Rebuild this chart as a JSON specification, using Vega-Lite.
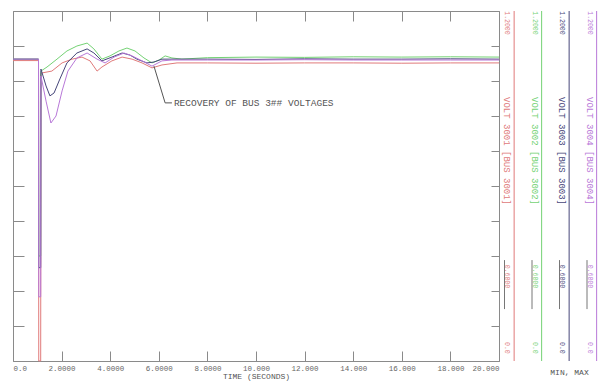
{
  "$schema": "https://vega.github.io/schema/vega-lite/v6.json",
  "background": "white",
  "padding": {"left": 11, "top": 10, "right": 0, "bottom": 0},
  "spacing": 0,
  "bounds": "flush",
  "config": {
    "view": {"stroke": null},
    "axis": {
      "grid": false,
      "domainColor": "#8a8a8a",
      "tickColor": "#8a8a8a",
      "labelFont": "Liberation Mono",
      "titleFont": "Liberation Mono",
      "labelColor": "#666666",
      "titleColor": "#555555",
      "labelFontSize": 7.5,
      "titleFontSize": 8,
      "titleFontWeight": "normal"
    }
  },
  "datasets": {
    "volts": [
      {"ch": "VOLT 3001 [BUS 3001]", "t": 0, "v": 1.03},
      {"ch": "VOLT 3001 [BUS 3001]", "t": 1.05, "v": 1.03},
      {"ch": "VOLT 3001 [BUS 3001]", "t": 1.06, "v": 0.0},
      {"ch": "VOLT 3001 [BUS 3001]", "t": 1.14, "v": 0.0},
      {"ch": "VOLT 3001 [BUS 3001]", "t": 1.15, "v": 0.987},
      {"ch": "VOLT 3001 [BUS 3001]", "t": 1.6, "v": 0.994},
      {"ch": "VOLT 3001 [BUS 3001]", "t": 2.02, "v": 1.022},
      {"ch": "VOLT 3001 [BUS 3001]", "t": 2.43, "v": 1.035},
      {"ch": "VOLT 3001 [BUS 3001]", "t": 2.84, "v": 1.042},
      {"ch": "VOLT 3001 [BUS 3001]", "t": 3.17, "v": 1.029},
      {"ch": "VOLT 3001 [BUS 3001]", "t": 3.46, "v": 0.994},
      {"ch": "VOLT 3001 [BUS 3001]", "t": 3.66, "v": 1.008},
      {"ch": "VOLT 3001 [BUS 3001]", "t": 4.07, "v": 1.029},
      {"ch": "VOLT 3001 [BUS 3001]", "t": 4.49, "v": 1.042},
      {"ch": "VOLT 3001 [BUS 3001]", "t": 4.9, "v": 1.035},
      {"ch": "VOLT 3001 [BUS 3001]", "t": 5.31, "v": 1.022},
      {"ch": "VOLT 3001 [BUS 3001]", "t": 5.72, "v": 1.005},
      {"ch": "VOLT 3001 [BUS 3001]", "t": 6.13, "v": 1.015},
      {"ch": "VOLT 3001 [BUS 3001]", "t": 6.75, "v": 1.022},
      {"ch": "VOLT 3001 [BUS 3001]", "t": 8, "v": 1.022},
      {"ch": "VOLT 3001 [BUS 3001]", "t": 10, "v": 1.021},
      {"ch": "VOLT 3001 [BUS 3001]", "t": 12, "v": 1.022},
      {"ch": "VOLT 3001 [BUS 3001]", "t": 14, "v": 1.022},
      {"ch": "VOLT 3001 [BUS 3001]", "t": 16, "v": 1.021},
      {"ch": "VOLT 3001 [BUS 3001]", "t": 18, "v": 1.022},
      {"ch": "VOLT 3001 [BUS 3001]", "t": 20, "v": 1.022},

      {"ch": "VOLT 3002 [BUS 3002]", "t": 0, "v": 1.035},
      {"ch": "VOLT 3002 [BUS 3002]", "t": 1.05, "v": 1.035},
      {"ch": "VOLT 3002 [BUS 3002]", "t": 1.06, "v": 0.36},
      {"ch": "VOLT 3002 [BUS 3002]", "t": 1.14, "v": 0.36},
      {"ch": "VOLT 3002 [BUS 3002]", "t": 1.15, "v": 0.994},
      {"ch": "VOLT 3002 [BUS 3002]", "t": 1.4, "v": 1.008},
      {"ch": "VOLT 3002 [BUS 3002]", "t": 1.81, "v": 1.035},
      {"ch": "VOLT 3002 [BUS 3002]", "t": 2.22, "v": 1.063},
      {"ch": "VOLT 3002 [BUS 3002]", "t": 2.63, "v": 1.08},
      {"ch": "VOLT 3002 [BUS 3002]", "t": 3.05, "v": 1.09},
      {"ch": "VOLT 3002 [BUS 3002]", "t": 3.33, "v": 1.07},
      {"ch": "VOLT 3002 [BUS 3002]", "t": 3.66, "v": 1.035},
      {"ch": "VOLT 3002 [BUS 3002]", "t": 3.99, "v": 1.046},
      {"ch": "VOLT 3002 [BUS 3002]", "t": 4.36, "v": 1.063},
      {"ch": "VOLT 3002 [BUS 3002]", "t": 4.69, "v": 1.073},
      {"ch": "VOLT 3002 [BUS 3002]", "t": 5.02, "v": 1.063},
      {"ch": "VOLT 3002 [BUS 3002]", "t": 5.39, "v": 1.039},
      {"ch": "VOLT 3002 [BUS 3002]", "t": 5.72, "v": 1.022},
      {"ch": "VOLT 3002 [BUS 3002]", "t": 6.01, "v": 1.032},
      {"ch": "VOLT 3002 [BUS 3002]", "t": 6.26, "v": 1.046},
      {"ch": "VOLT 3002 [BUS 3002]", "t": 6.54, "v": 1.039},
      {"ch": "VOLT 3002 [BUS 3002]", "t": 6.95, "v": 1.035},
      {"ch": "VOLT 3002 [BUS 3002]", "t": 8, "v": 1.04},
      {"ch": "VOLT 3002 [BUS 3002]", "t": 10, "v": 1.042},
      {"ch": "VOLT 3002 [BUS 3002]", "t": 12, "v": 1.041},
      {"ch": "VOLT 3002 [BUS 3002]", "t": 14, "v": 1.043},
      {"ch": "VOLT 3002 [BUS 3002]", "t": 16, "v": 1.042},
      {"ch": "VOLT 3002 [BUS 3002]", "t": 18, "v": 1.043},
      {"ch": "VOLT 3002 [BUS 3002]", "t": 20, "v": 1.042},

      {"ch": "VOLT 3003 [BUS 3003]", "t": 0, "v": 1.035},
      {"ch": "VOLT 3003 [BUS 3003]", "t": 1.05, "v": 1.035},
      {"ch": "VOLT 3003 [BUS 3003]", "t": 1.06, "v": 0.32},
      {"ch": "VOLT 3003 [BUS 3003]", "t": 1.14, "v": 0.32},
      {"ch": "VOLT 3003 [BUS 3003]", "t": 1.15, "v": 1.001},
      {"ch": "VOLT 3003 [BUS 3003]", "t": 1.36, "v": 0.943},
      {"ch": "VOLT 3003 [BUS 3003]", "t": 1.52, "v": 0.909},
      {"ch": "VOLT 3003 [BUS 3003]", "t": 1.69, "v": 0.919},
      {"ch": "VOLT 3003 [BUS 3003]", "t": 1.93, "v": 0.967},
      {"ch": "VOLT 3003 [BUS 3003]", "t": 2.22, "v": 1.022},
      {"ch": "VOLT 3003 [BUS 3003]", "t": 2.63, "v": 1.056},
      {"ch": "VOLT 3003 [BUS 3003]", "t": 3.05, "v": 1.07},
      {"ch": "VOLT 3003 [BUS 3003]", "t": 3.33, "v": 1.056},
      {"ch": "VOLT 3003 [BUS 3003]", "t": 3.66, "v": 1.029},
      {"ch": "VOLT 3003 [BUS 3003]", "t": 4.07, "v": 1.042},
      {"ch": "VOLT 3003 [BUS 3003]", "t": 4.49, "v": 1.056},
      {"ch": "VOLT 3003 [BUS 3003]", "t": 4.81, "v": 1.049},
      {"ch": "VOLT 3003 [BUS 3003]", "t": 5.1, "v": 1.035},
      {"ch": "VOLT 3003 [BUS 3003]", "t": 5.51, "v": 1.022},
      {"ch": "VOLT 3003 [BUS 3003]", "t": 5.8, "v": 1.025},
      {"ch": "VOLT 3003 [BUS 3003]", "t": 6.13, "v": 1.035},
      {"ch": "VOLT 3003 [BUS 3003]", "t": 6.54, "v": 1.035},
      {"ch": "VOLT 3003 [BUS 3003]", "t": 8, "v": 1.035},
      {"ch": "VOLT 3003 [BUS 3003]", "t": 10, "v": 1.034},
      {"ch": "VOLT 3003 [BUS 3003]", "t": 12, "v": 1.036},
      {"ch": "VOLT 3003 [BUS 3003]", "t": 14, "v": 1.035},
      {"ch": "VOLT 3003 [BUS 3003]", "t": 16, "v": 1.035},
      {"ch": "VOLT 3003 [BUS 3003]", "t": 18, "v": 1.036},
      {"ch": "VOLT 3003 [BUS 3003]", "t": 20, "v": 1.035},

      {"ch": "VOLT 3004 [BUS 3004]", "t": 0, "v": 1.035},
      {"ch": "VOLT 3004 [BUS 3004]", "t": 1.05, "v": 1.035},
      {"ch": "VOLT 3004 [BUS 3004]", "t": 1.06, "v": 0.22},
      {"ch": "VOLT 3004 [BUS 3004]", "t": 1.14, "v": 0.22},
      {"ch": "VOLT 3004 [BUS 3004]", "t": 1.15, "v": 0.977},
      {"ch": "VOLT 3004 [BUS 3004]", "t": 1.36, "v": 0.891},
      {"ch": "VOLT 3004 [BUS 3004]", "t": 1.56, "v": 0.816},
      {"ch": "VOLT 3004 [BUS 3004]", "t": 1.77, "v": 0.84},
      {"ch": "VOLT 3004 [BUS 3004]", "t": 2.02, "v": 0.926},
      {"ch": "VOLT 3004 [BUS 3004]", "t": 2.26, "v": 0.994},
      {"ch": "VOLT 3004 [BUS 3004]", "t": 2.63, "v": 1.039},
      {"ch": "VOLT 3004 [BUS 3004]", "t": 3.05, "v": 1.056},
      {"ch": "VOLT 3004 [BUS 3004]", "t": 3.46, "v": 1.035},
      {"ch": "VOLT 3004 [BUS 3004]", "t": 3.79, "v": 1.022},
      {"ch": "VOLT 3004 [BUS 3004]", "t": 4.16, "v": 1.042},
      {"ch": "VOLT 3004 [BUS 3004]", "t": 4.57, "v": 1.056},
      {"ch": "VOLT 3004 [BUS 3004]", "t": 4.9, "v": 1.046},
      {"ch": "VOLT 3004 [BUS 3004]", "t": 5.31, "v": 1.029},
      {"ch": "VOLT 3004 [BUS 3004]", "t": 5.72, "v": 1.011},
      {"ch": "VOLT 3004 [BUS 3004]", "t": 6.13, "v": 1.029},
      {"ch": "VOLT 3004 [BUS 3004]", "t": 6.54, "v": 1.032},
      {"ch": "VOLT 3004 [BUS 3004]", "t": 8, "v": 1.032},
      {"ch": "VOLT 3004 [BUS 3004]", "t": 10, "v": 1.032},
      {"ch": "VOLT 3004 [BUS 3004]", "t": 12, "v": 1.033},
      {"ch": "VOLT 3004 [BUS 3004]", "t": 14, "v": 1.032},
      {"ch": "VOLT 3004 [BUS 3004]", "t": 16, "v": 1.032},
      {"ch": "VOLT 3004 [BUS 3004]", "t": 18, "v": 1.032},
      {"ch": "VOLT 3004 [BUS 3004]", "t": 20, "v": 1.032}
    ],
    "ann": [
      {"t": 5.8, "v": 1.011},
      {"t": 6.26, "v": 0.885},
      {"t": 6.54, "v": 0.885}
    ],
    "note": [
      {"t": 6.54, "v": 0.885, "label": "RECOVERY OF BUS 3## VOLTAGES"}
    ],
    "chans": [
      {"ch": "VOLT 3001 [BUS 3001]", "hi": "1.2000", "mid": "0.6000", "lo": "0.0"},
      {"ch": "VOLT 3002 [BUS 3002]", "hi": "1.2000", "mid": "0.6000", "lo": "0.0"},
      {"ch": "VOLT 3003 [BUS 3003]", "hi": "1.2000", "mid": "0.6000", "lo": "0.0"},
      {"ch": "VOLT 3004 [BUS 3004]", "hi": "1.2000", "mid": "0.6000", "lo": "0.0"}
    ]
  },
  "hconcat": [
    {
      "width": 486,
      "height": 350,
      "layer": [
        {
          "data": {"name": "volts"},
          "mark": {"type": "line", "strokeWidth": 1},
          "encoding": {
            "x": {
              "field": "t", "type": "quantitative",
              "scale": {"domain": [0, 20], "nice": false, "zero": false},
              "axis": {
                "orient": "bottom",
                "values": [0, 2, 4, 6, 8, 10, 12, 14, 16, 18, 20],
                "tickSize": -10,
                "labelPadding": 13,
                "labelFlush": true,
                "labelExpr": "datum.value == 0 ? '0.0' : (datum.value < 10 ? format(datum.value, '.4f') : format(datum.value, '.3f'))",
                "title": "TIME (SECONDS)",
                "titlePadding": 1
              }
            },
            "y": {
              "field": "v", "type": "quantitative",
              "scale": {"domain": [0, 1.2], "nice": false},
              "axis": {
                "orient": "left",
                "values": [0, 0.12, 0.24, 0.36, 0.48, 0.6, 0.72, 0.84, 0.96, 1.08, 1.2],
                "labels": false,
                "tickSize": -11,
                "title": null
              }
            },
            "color": {
              "field": "ch", "type": "nominal",
              "scale": {
                "domain": ["VOLT 3001 [BUS 3001]", "VOLT 3002 [BUS 3002]", "VOLT 3003 [BUS 3003]", "VOLT 3004 [BUS 3004]"],
                "range": ["#e07a7a", "#74d274", "#46467a", "#b878d8"]
              },
              "legend": null
            }
          }
        },
        {
          "data": {"name": "ann"},
          "mark": {"type": "line", "color": "#555555", "strokeWidth": 1},
          "encoding": {
            "x": {
              "field": "t", "type": "quantitative",
              "axis": {
                "orient": "top",
                "values": [0, 2, 4, 6, 8, 10, 12, 14, 16, 18, 20],
                "labels": false,
                "tickSize": -10,
                "title": null
              }
            },
            "y": {
              "field": "v", "type": "quantitative",
              "axis": {
                "orient": "right",
                "values": [0, 0.12, 0.24, 0.36, 0.48, 0.6, 0.72, 0.84, 0.96, 1.08, 1.2],
                "labels": false,
                "tickSize": -8,
                "title": null
              }
            }
          }
        },
        {
          "data": {"name": "note"},
          "mark": {"type": "text", "align": "left", "baseline": "middle", "font": "Liberation Mono", "fontSize": 9.5, "color": "#555555", "dx": 2},
          "encoding": {
            "x": {"field": "t", "type": "quantitative", "axis": null},
            "y": {"field": "v", "type": "quantitative", "axis": null},
            "text": {"field": "label"}
          }
        }
      ],
      "resolve": {"axis": {"x": "independent", "y": "independent"}}
    },
    {
      "width": 110,
      "height": 350,
      "data": {"name": "chans"},
      "encoding": {
        "x": {
          "field": "ch", "type": "nominal",
          "scale": {"type": "band", "paddingInner": 0, "paddingOuter": 0},
          "axis": {
            "orient": "bottom", "domain": false, "ticks": false, "labels": false,
            "title": "MIN, MAX", "titleX": 70, "titleY": 11, "titleAlign": "center", "titleBaseline": "middle", "titleFontSize": 8
          }
        },
        "color": {
          "field": "ch", "type": "nominal",
          "scale": {
            "domain": ["VOLT 3001 [BUS 3001]", "VOLT 3002 [BUS 3002]", "VOLT 3003 [BUS 3003]", "VOLT 3004 [BUS 3004]"],
            "range": ["#e07a7a", "#74d274", "#46467a", "#b878d8"]
          },
          "legend": null
        }
      },
      "layer": [
        {
          "mark": {"type": "rule", "strokeWidth": 1},
          "encoding": {
            "x": {"field": "ch", "type": "nominal", "bandPosition": 0.55}
          }
        },
        {
          "mark": {"type": "rule", "strokeWidth": 1, "color": "#777777"},
          "encoding": {
            "x": {"field": "ch", "type": "nominal", "bandPosition": 0.2},
            "y": {"datum": 0.346, "type": "quantitative", "scale": {"domain": [0, 1.2], "nice": false}, "axis": null},
            "y2": {"datum": 0.178},
            "color": {"value": "#777777"}
          }
        },
        {
          "mark": {"type": "text", "angle": 90, "align": "center", "baseline": "middle", "font": "Liberation Mono", "fontSize": 9},
          "encoding": {
            "x": {"field": "ch", "type": "nominal", "bandPosition": 0.3},
            "y": {"datum": 0.72, "type": "quantitative", "axis": null},
            "text": {"field": "ch"}
          }
        },
        {
          "mark": {"type": "text", "angle": 90, "align": "center", "baseline": "middle", "font": "Liberation Mono", "fontSize": 6.5},
          "encoding": {
            "x": {"field": "ch", "type": "nominal", "bandPosition": 0.3},
            "y": {"datum": 1.159, "type": "quantitative", "axis": null},
            "text": {"field": "hi"}
          }
        },
        {
          "mark": {"type": "text", "angle": 90, "align": "center", "baseline": "middle", "font": "Liberation Mono", "fontSize": 6.5},
          "encoding": {
            "x": {"field": "ch", "type": "nominal", "bandPosition": 0.3},
            "y": {"datum": 0.29, "type": "quantitative", "axis": null},
            "text": {"field": "mid"}
          }
        },
        {
          "mark": {"type": "text", "angle": 90, "align": "center", "baseline": "middle", "font": "Liberation Mono", "fontSize": 6.5},
          "encoding": {
            "x": {"field": "ch", "type": "nominal", "bandPosition": 0.3},
            "y": {"datum": 0.045, "type": "quantitative", "axis": null},
            "text": {"field": "lo"}
          }
        }
      ]
    }
  ]
}
